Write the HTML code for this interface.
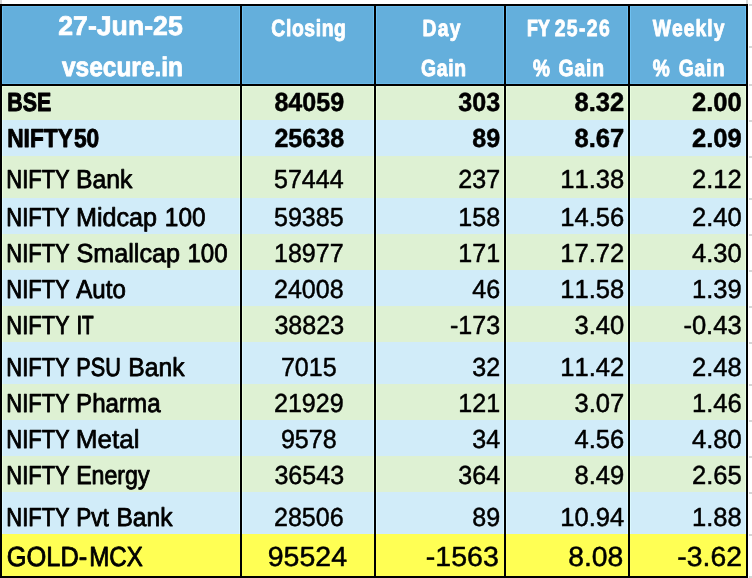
<!DOCTYPE html>
<html lang="en"><head><meta charset="utf-8"><title>Market summary 27-Jun-25</title>
<style>html,body{margin:0;padding:0;background:#fff;width:752px;height:578px;overflow:hidden}</style></head>
<body>
<svg width="752" height="578" viewBox="0 0 752 578" style="display:block;position:absolute;left:0;top:0">
<rect x="0" y="0" width="752" height="578" fill="#fff"/>
<g shape-rendering="crispEdges">
<rect x="0" y="0" width="2" height="4" fill="#D6D6D6"/>
<rect x="746" y="0" width="2" height="4" fill="#D6D6D6"/>
<rect x="749" y="4" width="3" height="2" fill="#D6D6D6"/>
<rect x="749" y="46" width="3" height="2" fill="#D6D6D6"/>
<rect x="749" y="84" width="3" height="2" fill="#D6D6D6"/>
<rect x="749" y="120" width="3" height="2" fill="#D6D6D6"/>
<rect x="749" y="156" width="3" height="2" fill="#D6D6D6"/>
<rect x="749" y="198" width="3" height="2" fill="#D6D6D6"/>
<rect x="749" y="234" width="3" height="2" fill="#D6D6D6"/>
<rect x="749" y="270" width="3" height="2" fill="#D6D6D6"/>
<rect x="749" y="306" width="3" height="2" fill="#D6D6D6"/>
<rect x="749" y="342" width="3" height="2" fill="#D6D6D6"/>
<rect x="749" y="384" width="3" height="2" fill="#D6D6D6"/>
<rect x="749" y="420" width="3" height="2" fill="#D6D6D6"/>
<rect x="749" y="456" width="3" height="2" fill="#D6D6D6"/>
<rect x="749" y="492" width="3" height="2" fill="#D6D6D6"/>
<rect x="749" y="534" width="3" height="2" fill="#D6D6D6"/>
<rect x="749" y="576" width="3" height="2" fill="#D6D6D6"/>
<rect x="0" y="4" width="748" height="574" fill="#000"/>
<rect x="2" y="6" width="238" height="78" fill="#64AFDC"/>
<rect x="2" y="86" width="238" height="34" fill="#DEF1D3"/>
<rect x="2" y="120" width="238" height="36" fill="#D1ECF9"/>
<rect x="2" y="156" width="238" height="42" fill="#DEF1D3"/>
<rect x="2" y="198" width="238" height="36" fill="#D1ECF9"/>
<rect x="2" y="234" width="238" height="36" fill="#DEF1D3"/>
<rect x="2" y="270" width="238" height="36" fill="#D1ECF9"/>
<rect x="2" y="306" width="238" height="36" fill="#DEF1D3"/>
<rect x="2" y="342" width="238" height="42" fill="#D1ECF9"/>
<rect x="2" y="384" width="238" height="36" fill="#DEF1D3"/>
<rect x="2" y="420" width="238" height="36" fill="#D1ECF9"/>
<rect x="2" y="456" width="238" height="36" fill="#DEF1D3"/>
<rect x="2" y="492" width="238" height="42" fill="#D1ECF9"/>
<rect x="2" y="534" width="238" height="42" fill="#FFFF54"/>
<rect x="242" y="6" width="132" height="78" fill="#64AFDC"/>
<rect x="242" y="86" width="132" height="34" fill="#DEF1D3"/>
<rect x="242" y="120" width="132" height="36" fill="#D1ECF9"/>
<rect x="242" y="156" width="132" height="42" fill="#DEF1D3"/>
<rect x="242" y="198" width="132" height="36" fill="#D1ECF9"/>
<rect x="242" y="234" width="132" height="36" fill="#DEF1D3"/>
<rect x="242" y="270" width="132" height="36" fill="#D1ECF9"/>
<rect x="242" y="306" width="132" height="36" fill="#DEF1D3"/>
<rect x="242" y="342" width="132" height="42" fill="#D1ECF9"/>
<rect x="242" y="384" width="132" height="36" fill="#DEF1D3"/>
<rect x="242" y="420" width="132" height="36" fill="#D1ECF9"/>
<rect x="242" y="456" width="132" height="36" fill="#DEF1D3"/>
<rect x="242" y="492" width="132" height="42" fill="#D1ECF9"/>
<rect x="242" y="534" width="132" height="42" fill="#FFFF54"/>
<rect x="376" y="6" width="128" height="78" fill="#64AFDC"/>
<rect x="376" y="86" width="128" height="34" fill="#DEF1D3"/>
<rect x="376" y="120" width="128" height="36" fill="#D1ECF9"/>
<rect x="376" y="156" width="128" height="42" fill="#DEF1D3"/>
<rect x="376" y="198" width="128" height="36" fill="#D1ECF9"/>
<rect x="376" y="234" width="128" height="36" fill="#DEF1D3"/>
<rect x="376" y="270" width="128" height="36" fill="#D1ECF9"/>
<rect x="376" y="306" width="128" height="36" fill="#DEF1D3"/>
<rect x="376" y="342" width="128" height="42" fill="#D1ECF9"/>
<rect x="376" y="384" width="128" height="36" fill="#DEF1D3"/>
<rect x="376" y="420" width="128" height="36" fill="#D1ECF9"/>
<rect x="376" y="456" width="128" height="36" fill="#DEF1D3"/>
<rect x="376" y="492" width="128" height="42" fill="#D1ECF9"/>
<rect x="376" y="534" width="128" height="42" fill="#FFFF54"/>
<rect x="506" y="6" width="122" height="78" fill="#64AFDC"/>
<rect x="506" y="86" width="122" height="34" fill="#DEF1D3"/>
<rect x="506" y="120" width="122" height="36" fill="#D1ECF9"/>
<rect x="506" y="156" width="122" height="42" fill="#DEF1D3"/>
<rect x="506" y="198" width="122" height="36" fill="#D1ECF9"/>
<rect x="506" y="234" width="122" height="36" fill="#DEF1D3"/>
<rect x="506" y="270" width="122" height="36" fill="#D1ECF9"/>
<rect x="506" y="306" width="122" height="36" fill="#DEF1D3"/>
<rect x="506" y="342" width="122" height="42" fill="#D1ECF9"/>
<rect x="506" y="384" width="122" height="36" fill="#DEF1D3"/>
<rect x="506" y="420" width="122" height="36" fill="#D1ECF9"/>
<rect x="506" y="456" width="122" height="36" fill="#DEF1D3"/>
<rect x="506" y="492" width="122" height="42" fill="#D1ECF9"/>
<rect x="506" y="534" width="122" height="42" fill="#FFFF54"/>
<rect x="630" y="6" width="116" height="78" fill="#64AFDC"/>
<rect x="630" y="86" width="116" height="34" fill="#DEF1D3"/>
<rect x="630" y="120" width="116" height="36" fill="#D1ECF9"/>
<rect x="630" y="156" width="116" height="42" fill="#DEF1D3"/>
<rect x="630" y="198" width="116" height="36" fill="#D1ECF9"/>
<rect x="630" y="234" width="116" height="36" fill="#DEF1D3"/>
<rect x="630" y="270" width="116" height="36" fill="#D1ECF9"/>
<rect x="630" y="306" width="116" height="36" fill="#DEF1D3"/>
<rect x="630" y="342" width="116" height="42" fill="#D1ECF9"/>
<rect x="630" y="384" width="116" height="36" fill="#DEF1D3"/>
<rect x="630" y="420" width="116" height="36" fill="#D1ECF9"/>
<rect x="630" y="456" width="116" height="36" fill="#DEF1D3"/>
<rect x="630" y="492" width="116" height="42" fill="#D1ECF9"/>
<rect x="630" y="534" width="116" height="42" fill="#FFFF54"/>
<rect x="2" y="6" width="1" height="78" fill="#6EC1F2"/>
<rect x="239" y="6" width="1" height="78" fill="#6EC1F2"/>
<rect x="2" y="86" width="1" height="34" fill="#E9FDDE"/>
<rect x="239" y="86" width="1" height="34" fill="#E9FDDE"/>
<rect x="2" y="120" width="1" height="36" fill="#DBF8FF"/>
<rect x="239" y="120" width="1" height="36" fill="#DBF8FF"/>
<rect x="2" y="156" width="1" height="42" fill="#E9FDDE"/>
<rect x="239" y="156" width="1" height="42" fill="#E9FDDE"/>
<rect x="2" y="198" width="1" height="36" fill="#DBF8FF"/>
<rect x="239" y="198" width="1" height="36" fill="#DBF8FF"/>
<rect x="2" y="234" width="1" height="36" fill="#E9FDDE"/>
<rect x="239" y="234" width="1" height="36" fill="#E9FDDE"/>
<rect x="2" y="270" width="1" height="36" fill="#DBF8FF"/>
<rect x="239" y="270" width="1" height="36" fill="#DBF8FF"/>
<rect x="2" y="306" width="1" height="36" fill="#E9FDDE"/>
<rect x="239" y="306" width="1" height="36" fill="#E9FDDE"/>
<rect x="2" y="342" width="1" height="42" fill="#DBF8FF"/>
<rect x="239" y="342" width="1" height="42" fill="#DBF8FF"/>
<rect x="2" y="384" width="1" height="36" fill="#E9FDDE"/>
<rect x="239" y="384" width="1" height="36" fill="#E9FDDE"/>
<rect x="2" y="420" width="1" height="36" fill="#DBF8FF"/>
<rect x="239" y="420" width="1" height="36" fill="#DBF8FF"/>
<rect x="2" y="456" width="1" height="36" fill="#E9FDDE"/>
<rect x="239" y="456" width="1" height="36" fill="#E9FDDE"/>
<rect x="2" y="492" width="1" height="42" fill="#DBF8FF"/>
<rect x="239" y="492" width="1" height="42" fill="#DBF8FF"/>
<rect x="2" y="534" width="1" height="42" fill="#FFFF58"/>
<rect x="239" y="534" width="1" height="42" fill="#FFFF58"/>
<rect x="2" y="6" width="238" height="1" fill="#6ABAE9"/>
<rect x="2" y="83" width="238" height="1" fill="#6ABAE9"/>
<rect x="2" y="86" width="238" height="1" fill="#E5F8D9"/>
<rect x="2" y="575" width="238" height="1" fill="#FFFF57"/>
<rect x="242" y="6" width="1" height="78" fill="#6EC1F2"/>
<rect x="373" y="6" width="1" height="78" fill="#6EC1F2"/>
<rect x="242" y="86" width="1" height="34" fill="#E9FDDE"/>
<rect x="373" y="86" width="1" height="34" fill="#E9FDDE"/>
<rect x="242" y="120" width="1" height="36" fill="#DBF8FF"/>
<rect x="373" y="120" width="1" height="36" fill="#DBF8FF"/>
<rect x="242" y="156" width="1" height="42" fill="#E9FDDE"/>
<rect x="373" y="156" width="1" height="42" fill="#E9FDDE"/>
<rect x="242" y="198" width="1" height="36" fill="#DBF8FF"/>
<rect x="373" y="198" width="1" height="36" fill="#DBF8FF"/>
<rect x="242" y="234" width="1" height="36" fill="#E9FDDE"/>
<rect x="373" y="234" width="1" height="36" fill="#E9FDDE"/>
<rect x="242" y="270" width="1" height="36" fill="#DBF8FF"/>
<rect x="373" y="270" width="1" height="36" fill="#DBF8FF"/>
<rect x="242" y="306" width="1" height="36" fill="#E9FDDE"/>
<rect x="373" y="306" width="1" height="36" fill="#E9FDDE"/>
<rect x="242" y="342" width="1" height="42" fill="#DBF8FF"/>
<rect x="373" y="342" width="1" height="42" fill="#DBF8FF"/>
<rect x="242" y="384" width="1" height="36" fill="#E9FDDE"/>
<rect x="373" y="384" width="1" height="36" fill="#E9FDDE"/>
<rect x="242" y="420" width="1" height="36" fill="#DBF8FF"/>
<rect x="373" y="420" width="1" height="36" fill="#DBF8FF"/>
<rect x="242" y="456" width="1" height="36" fill="#E9FDDE"/>
<rect x="373" y="456" width="1" height="36" fill="#E9FDDE"/>
<rect x="242" y="492" width="1" height="42" fill="#DBF8FF"/>
<rect x="373" y="492" width="1" height="42" fill="#DBF8FF"/>
<rect x="242" y="534" width="1" height="42" fill="#FFFF58"/>
<rect x="373" y="534" width="1" height="42" fill="#FFFF58"/>
<rect x="242" y="6" width="132" height="1" fill="#6ABAE9"/>
<rect x="242" y="83" width="132" height="1" fill="#6ABAE9"/>
<rect x="242" y="86" width="132" height="1" fill="#E5F8D9"/>
<rect x="242" y="575" width="132" height="1" fill="#FFFF57"/>
<rect x="376" y="6" width="1" height="78" fill="#6EC1F2"/>
<rect x="503" y="6" width="1" height="78" fill="#6EC1F2"/>
<rect x="376" y="86" width="1" height="34" fill="#E9FDDE"/>
<rect x="503" y="86" width="1" height="34" fill="#E9FDDE"/>
<rect x="376" y="120" width="1" height="36" fill="#DBF8FF"/>
<rect x="503" y="120" width="1" height="36" fill="#DBF8FF"/>
<rect x="376" y="156" width="1" height="42" fill="#E9FDDE"/>
<rect x="503" y="156" width="1" height="42" fill="#E9FDDE"/>
<rect x="376" y="198" width="1" height="36" fill="#DBF8FF"/>
<rect x="503" y="198" width="1" height="36" fill="#DBF8FF"/>
<rect x="376" y="234" width="1" height="36" fill="#E9FDDE"/>
<rect x="503" y="234" width="1" height="36" fill="#E9FDDE"/>
<rect x="376" y="270" width="1" height="36" fill="#DBF8FF"/>
<rect x="503" y="270" width="1" height="36" fill="#DBF8FF"/>
<rect x="376" y="306" width="1" height="36" fill="#E9FDDE"/>
<rect x="503" y="306" width="1" height="36" fill="#E9FDDE"/>
<rect x="376" y="342" width="1" height="42" fill="#DBF8FF"/>
<rect x="503" y="342" width="1" height="42" fill="#DBF8FF"/>
<rect x="376" y="384" width="1" height="36" fill="#E9FDDE"/>
<rect x="503" y="384" width="1" height="36" fill="#E9FDDE"/>
<rect x="376" y="420" width="1" height="36" fill="#DBF8FF"/>
<rect x="503" y="420" width="1" height="36" fill="#DBF8FF"/>
<rect x="376" y="456" width="1" height="36" fill="#E9FDDE"/>
<rect x="503" y="456" width="1" height="36" fill="#E9FDDE"/>
<rect x="376" y="492" width="1" height="42" fill="#DBF8FF"/>
<rect x="503" y="492" width="1" height="42" fill="#DBF8FF"/>
<rect x="376" y="534" width="1" height="42" fill="#FFFF58"/>
<rect x="503" y="534" width="1" height="42" fill="#FFFF58"/>
<rect x="376" y="6" width="128" height="1" fill="#6ABAE9"/>
<rect x="376" y="83" width="128" height="1" fill="#6ABAE9"/>
<rect x="376" y="86" width="128" height="1" fill="#E5F8D9"/>
<rect x="376" y="575" width="128" height="1" fill="#FFFF57"/>
<rect x="506" y="6" width="1" height="78" fill="#6EC1F2"/>
<rect x="627" y="6" width="1" height="78" fill="#6EC1F2"/>
<rect x="506" y="86" width="1" height="34" fill="#E9FDDE"/>
<rect x="627" y="86" width="1" height="34" fill="#E9FDDE"/>
<rect x="506" y="120" width="1" height="36" fill="#DBF8FF"/>
<rect x="627" y="120" width="1" height="36" fill="#DBF8FF"/>
<rect x="506" y="156" width="1" height="42" fill="#E9FDDE"/>
<rect x="627" y="156" width="1" height="42" fill="#E9FDDE"/>
<rect x="506" y="198" width="1" height="36" fill="#DBF8FF"/>
<rect x="627" y="198" width="1" height="36" fill="#DBF8FF"/>
<rect x="506" y="234" width="1" height="36" fill="#E9FDDE"/>
<rect x="627" y="234" width="1" height="36" fill="#E9FDDE"/>
<rect x="506" y="270" width="1" height="36" fill="#DBF8FF"/>
<rect x="627" y="270" width="1" height="36" fill="#DBF8FF"/>
<rect x="506" y="306" width="1" height="36" fill="#E9FDDE"/>
<rect x="627" y="306" width="1" height="36" fill="#E9FDDE"/>
<rect x="506" y="342" width="1" height="42" fill="#DBF8FF"/>
<rect x="627" y="342" width="1" height="42" fill="#DBF8FF"/>
<rect x="506" y="384" width="1" height="36" fill="#E9FDDE"/>
<rect x="627" y="384" width="1" height="36" fill="#E9FDDE"/>
<rect x="506" y="420" width="1" height="36" fill="#DBF8FF"/>
<rect x="627" y="420" width="1" height="36" fill="#DBF8FF"/>
<rect x="506" y="456" width="1" height="36" fill="#E9FDDE"/>
<rect x="627" y="456" width="1" height="36" fill="#E9FDDE"/>
<rect x="506" y="492" width="1" height="42" fill="#DBF8FF"/>
<rect x="627" y="492" width="1" height="42" fill="#DBF8FF"/>
<rect x="506" y="534" width="1" height="42" fill="#FFFF58"/>
<rect x="627" y="534" width="1" height="42" fill="#FFFF58"/>
<rect x="506" y="6" width="122" height="1" fill="#6ABAE9"/>
<rect x="506" y="83" width="122" height="1" fill="#6ABAE9"/>
<rect x="506" y="86" width="122" height="1" fill="#E5F8D9"/>
<rect x="506" y="575" width="122" height="1" fill="#FFFF57"/>
<rect x="630" y="6" width="1" height="78" fill="#6EC1F2"/>
<rect x="745" y="6" width="1" height="78" fill="#6EC1F2"/>
<rect x="630" y="86" width="1" height="34" fill="#E9FDDE"/>
<rect x="745" y="86" width="1" height="34" fill="#E9FDDE"/>
<rect x="630" y="120" width="1" height="36" fill="#DBF8FF"/>
<rect x="745" y="120" width="1" height="36" fill="#DBF8FF"/>
<rect x="630" y="156" width="1" height="42" fill="#E9FDDE"/>
<rect x="745" y="156" width="1" height="42" fill="#E9FDDE"/>
<rect x="630" y="198" width="1" height="36" fill="#DBF8FF"/>
<rect x="745" y="198" width="1" height="36" fill="#DBF8FF"/>
<rect x="630" y="234" width="1" height="36" fill="#E9FDDE"/>
<rect x="745" y="234" width="1" height="36" fill="#E9FDDE"/>
<rect x="630" y="270" width="1" height="36" fill="#DBF8FF"/>
<rect x="745" y="270" width="1" height="36" fill="#DBF8FF"/>
<rect x="630" y="306" width="1" height="36" fill="#E9FDDE"/>
<rect x="745" y="306" width="1" height="36" fill="#E9FDDE"/>
<rect x="630" y="342" width="1" height="42" fill="#DBF8FF"/>
<rect x="745" y="342" width="1" height="42" fill="#DBF8FF"/>
<rect x="630" y="384" width="1" height="36" fill="#E9FDDE"/>
<rect x="745" y="384" width="1" height="36" fill="#E9FDDE"/>
<rect x="630" y="420" width="1" height="36" fill="#DBF8FF"/>
<rect x="745" y="420" width="1" height="36" fill="#DBF8FF"/>
<rect x="630" y="456" width="1" height="36" fill="#E9FDDE"/>
<rect x="745" y="456" width="1" height="36" fill="#E9FDDE"/>
<rect x="630" y="492" width="1" height="42" fill="#DBF8FF"/>
<rect x="745" y="492" width="1" height="42" fill="#DBF8FF"/>
<rect x="630" y="534" width="1" height="42" fill="#FFFF58"/>
<rect x="745" y="534" width="1" height="42" fill="#FFFF58"/>
<rect x="630" y="6" width="116" height="1" fill="#6ABAE9"/>
<rect x="630" y="83" width="116" height="1" fill="#6ABAE9"/>
<rect x="630" y="86" width="116" height="1" fill="#E5F8D9"/>
<rect x="630" y="575" width="116" height="1" fill="#FFFF57"/>
</g>
<g font-family="'Liberation Sans', Arial, Helvetica, sans-serif" text-rendering="geometricPrecision" style="font-kerning:none" fill="#000" stroke="#000" stroke-width="0.5" stroke-linejoin="round">
<text y="35.40" font-size="27.0" font-weight="bold" fill="#fff" stroke="#fff" stroke-width="0.85"><tspan x="58.26" textLength="124.50" lengthAdjust="spacingAndGlyphs" stroke-width="0.72">27-Jun-25</tspan></text>
<text y="35.60" font-size="23.3" font-weight="bold" fill="#fff" stroke="#fff" stroke-width="0.85"><tspan x="271.34" textLength="75.14" lengthAdjust="spacingAndGlyphs" letter-spacing="0.730" stroke-width="0.89">Closing</tspan></text>
<text y="35.60" font-size="23.3" font-weight="bold" fill="#fff" stroke="#fff" stroke-width="0.85"><tspan x="422.50" textLength="39.31" lengthAdjust="spacingAndGlyphs" letter-spacing="1.543" stroke-width="0.86">Day</tspan></text>
<text y="35.60" font-size="23.3" font-weight="bold" fill="#fff" stroke="#fff" stroke-width="0.85"><tspan x="527.00" textLength="22.78" lengthAdjust="spacingAndGlyphs" stroke-width="1.14">FY</tspan> <tspan x="554.71" textLength="56.32" lengthAdjust="spacingAndGlyphs" letter-spacing="1.653" stroke-width="0.82">25-26</tspan></text>
<text y="35.60" font-size="23.3" font-weight="bold" fill="#fff" stroke="#fff" stroke-width="0.85"><tspan x="652.63" textLength="72.84" lengthAdjust="spacingAndGlyphs" letter-spacing="1.245" stroke-width="0.86">Weekly</tspan></text>
<text y="75.50" font-size="27.0" font-weight="bold" fill="#fff" stroke="#fff" stroke-width="0.85"><tspan x="62.02" textLength="121.01" lengthAdjust="spacingAndGlyphs" stroke-width="0.84">vsecure.in</tspan></text>
<text y="75.70" font-size="23.3" font-weight="bold" fill="#fff" stroke="#fff" stroke-width="0.85"><tspan x="421.05" textLength="45.85" lengthAdjust="spacingAndGlyphs" letter-spacing="0.865" stroke-width="0.89">Gain</tspan></text>
<text y="75.70" font-size="23.3" font-weight="bold" fill="#fff" stroke="#fff" stroke-width="0.85"><tspan x="532.89" textLength="16.98" lengthAdjust="spacingAndGlyphs" stroke-width="0.98">%</tspan> <tspan x="558.54" textLength="46.53" lengthAdjust="spacingAndGlyphs" letter-spacing="1.070" stroke-width="0.88">Gain</tspan></text>
<text y="75.70" font-size="23.3" font-weight="bold" fill="#fff" stroke="#fff" stroke-width="0.85"><tspan x="652.79" textLength="16.98" lengthAdjust="spacingAndGlyphs" stroke-width="0.98">%</tspan> <tspan x="678.63" textLength="46.81" lengthAdjust="spacingAndGlyphs" letter-spacing="1.154" stroke-width="0.87">Gain</tspan></text>
<text y="111.30" font-size="26.0" font-weight="bold" stroke-width="0.85"><tspan x="7.27" textLength="43.91" lengthAdjust="spacingAndGlyphs" stroke-width="0.99">BSE</tspan></text>
<text x="274.42" y="111.30" font-size="26.0" font-weight="bold" textLength="69.71" lengthAdjust="spacingAndGlyphs">84059</text>
<text x="458.27" y="111.30" font-size="26.0" font-weight="bold" textLength="41.82" lengthAdjust="spacingAndGlyphs">303</text>
<text x="574.41" y="111.30" font-size="26.0" font-weight="bold" textLength="49.79" lengthAdjust="spacingAndGlyphs">8.32</text>
<text x="691.91" y="111.30" font-size="26.0" font-weight="bold" textLength="49.79" lengthAdjust="spacingAndGlyphs">2.00</text>
<text y="147.30" font-size="26.0" font-weight="bold" stroke-width="0.85"><tspan x="7.17" textLength="65.68" lengthAdjust="spacingAndGlyphs" stroke-width="0.89">NIFTY</tspan><tspan x="73.94" textLength="25.32" lengthAdjust="spacingAndGlyphs" stroke-width="0.88">50</tspan></text>
<text x="274.42" y="147.30" font-size="26.0" font-weight="bold" textLength="69.71" lengthAdjust="spacingAndGlyphs">25638</text>
<text x="472.21" y="147.30" font-size="26.0" font-weight="bold" textLength="27.88" lengthAdjust="spacingAndGlyphs">89</text>
<text x="574.41" y="147.30" font-size="26.0" font-weight="bold" textLength="49.79" lengthAdjust="spacingAndGlyphs">8.67</text>
<text x="691.91" y="147.30" font-size="26.0" font-weight="bold" textLength="49.79" lengthAdjust="spacingAndGlyphs">2.09</text>
<text y="187.50" font-size="26.0" stroke-width="0.85"><tspan x="6.28" textLength="63.45" lengthAdjust="spacingAndGlyphs" stroke-width="0.93">NIFTY</tspan> <tspan x="75.98" textLength="56.38" lengthAdjust="spacingAndGlyphs" stroke-width="0.77">Bank</tspan></text>
<text x="273.94" y="187.50" font-size="26.0" textLength="69.71" lengthAdjust="spacingAndGlyphs">57444</text>
<text x="458.27" y="187.50" font-size="26.0" textLength="41.82" lengthAdjust="spacingAndGlyphs">237</text>
<text x="560.19" y="187.50" font-size="26.0" textLength="64.02" lengthAdjust="spacingAndGlyphs">11.38</text>
<text x="691.91" y="187.50" font-size="26.0" textLength="49.79" lengthAdjust="spacingAndGlyphs">2.12</text>
<text y="225.50" font-size="26.0" stroke-width="0.85"><tspan x="6.28" textLength="63.45" lengthAdjust="spacingAndGlyphs" stroke-width="0.93">NIFTY</tspan> <tspan x="75.94" textLength="81.13" lengthAdjust="spacingAndGlyphs" stroke-width="0.75">Midcap</tspan> <tspan x="164.85" textLength="40.78" lengthAdjust="spacingAndGlyphs" stroke-width="0.79">100</tspan></text>
<text x="273.94" y="225.50" font-size="26.0" textLength="69.71" lengthAdjust="spacingAndGlyphs">59385</text>
<text x="458.27" y="225.50" font-size="26.0" textLength="41.82" lengthAdjust="spacingAndGlyphs">158</text>
<text x="560.19" y="225.50" font-size="26.0" textLength="64.02" lengthAdjust="spacingAndGlyphs">14.56</text>
<text x="691.91" y="225.50" font-size="26.0" textLength="49.79" lengthAdjust="spacingAndGlyphs">2.40</text>
<text y="261.50" font-size="26.0" stroke-width="0.85"><tspan x="6.28" textLength="63.45" lengthAdjust="spacingAndGlyphs" stroke-width="0.93">NIFTY</tspan> <tspan x="76.40" textLength="103.77" lengthAdjust="spacingAndGlyphs" stroke-width="0.75">Smallcap</tspan> <tspan x="187.38" textLength="40.24" lengthAdjust="spacingAndGlyphs" stroke-width="0.81">100</tspan></text>
<text x="273.94" y="261.50" font-size="26.0" textLength="69.71" lengthAdjust="spacingAndGlyphs">18977</text>
<text x="458.27" y="261.50" font-size="26.0" textLength="41.82" lengthAdjust="spacingAndGlyphs">171</text>
<text x="560.19" y="261.50" font-size="26.0" textLength="64.02" lengthAdjust="spacingAndGlyphs">17.72</text>
<text x="691.91" y="261.50" font-size="26.0" textLength="49.79" lengthAdjust="spacingAndGlyphs">4.30</text>
<text y="297.50" font-size="26.0" stroke-width="0.85"><tspan x="6.28" textLength="63.45" lengthAdjust="spacingAndGlyphs" stroke-width="0.93">NIFTY</tspan> <tspan x="76.31" textLength="49.52" lengthAdjust="spacingAndGlyphs" stroke-width="0.81">Auto</tspan></text>
<text x="273.94" y="297.50" font-size="26.0" textLength="69.71" lengthAdjust="spacingAndGlyphs">24008</text>
<text x="472.21" y="297.50" font-size="26.0" textLength="27.88" lengthAdjust="spacingAndGlyphs">46</text>
<text x="560.19" y="297.50" font-size="26.0" textLength="64.02" lengthAdjust="spacingAndGlyphs">11.58</text>
<text x="691.91" y="297.50" font-size="26.0" textLength="49.79" lengthAdjust="spacingAndGlyphs">1.39</text>
<text y="333.50" font-size="26.0" stroke-width="0.85"><tspan x="6.28" textLength="63.45" lengthAdjust="spacingAndGlyphs" stroke-width="0.93">NIFTY</tspan> <tspan x="76.75" textLength="16.85" lengthAdjust="spacingAndGlyphs" stroke-width="1.22">IT</tspan></text>
<text x="274.42" y="333.50" font-size="26.0" textLength="69.71" lengthAdjust="spacingAndGlyphs">38823</text>
<text x="449.92" y="333.50" font-size="26.0" textLength="50.17" lengthAdjust="spacingAndGlyphs">-173</text>
<text x="574.41" y="333.50" font-size="26.0" textLength="49.79" lengthAdjust="spacingAndGlyphs">3.40</text>
<text x="683.39" y="333.50" font-size="26.0" textLength="58.31" lengthAdjust="spacingAndGlyphs">-0.43</text>
<text y="375.60" font-size="26.0" stroke-width="0.85"><tspan x="6.28" textLength="63.45" lengthAdjust="spacingAndGlyphs" stroke-width="0.93">NIFTY</tspan> <tspan x="76.31" textLength="44.49" lengthAdjust="spacingAndGlyphs" stroke-width="0.96">PSU</tspan> <tspan x="128.29" textLength="56.17" lengthAdjust="spacingAndGlyphs" stroke-width="0.78">Bank</tspan></text>
<text x="280.91" y="375.60" font-size="26.0" textLength="55.77" lengthAdjust="spacingAndGlyphs">7015</text>
<text x="472.21" y="375.60" font-size="26.0" textLength="27.88" lengthAdjust="spacingAndGlyphs">32</text>
<text x="560.19" y="375.60" font-size="26.0" textLength="64.02" lengthAdjust="spacingAndGlyphs">11.42</text>
<text x="691.91" y="375.60" font-size="26.0" textLength="49.79" lengthAdjust="spacingAndGlyphs">2.48</text>
<text y="411.50" font-size="26.0" stroke-width="0.85"><tspan x="6.28" textLength="63.45" lengthAdjust="spacingAndGlyphs" stroke-width="0.93">NIFTY</tspan> <tspan x="76.05" textLength="84.55" lengthAdjust="spacingAndGlyphs" stroke-width="0.81">Pharma</tspan></text>
<text x="273.94" y="411.50" font-size="26.0" textLength="69.71" lengthAdjust="spacingAndGlyphs">21929</text>
<text x="458.27" y="411.50" font-size="26.0" textLength="41.82" lengthAdjust="spacingAndGlyphs">121</text>
<text x="574.41" y="411.50" font-size="26.0" textLength="49.79" lengthAdjust="spacingAndGlyphs">3.07</text>
<text x="691.91" y="411.50" font-size="26.0" textLength="49.79" lengthAdjust="spacingAndGlyphs">1.46</text>
<text y="447.50" font-size="26.0" stroke-width="0.85"><tspan x="6.28" textLength="63.45" lengthAdjust="spacingAndGlyphs" stroke-width="0.93">NIFTY</tspan> <tspan x="75.84" textLength="63.79" lengthAdjust="spacingAndGlyphs" stroke-width="0.70">Metal</tspan></text>
<text x="280.91" y="447.50" font-size="26.0" textLength="55.77" lengthAdjust="spacingAndGlyphs">9578</text>
<text x="472.21" y="447.50" font-size="26.0" textLength="27.88" lengthAdjust="spacingAndGlyphs">34</text>
<text x="574.41" y="447.50" font-size="26.0" textLength="49.79" lengthAdjust="spacingAndGlyphs">4.56</text>
<text x="691.91" y="447.50" font-size="26.0" textLength="49.79" lengthAdjust="spacingAndGlyphs">4.80</text>
<text y="483.50" font-size="26.0" stroke-width="0.85"><tspan x="6.28" textLength="63.45" lengthAdjust="spacingAndGlyphs" stroke-width="0.93">NIFTY</tspan> <tspan x="76.15" textLength="73.42" lengthAdjust="spacingAndGlyphs" stroke-width="0.86">Energy</tspan></text>
<text x="274.42" y="483.50" font-size="26.0" textLength="69.71" lengthAdjust="spacingAndGlyphs">36543</text>
<text x="458.27" y="483.50" font-size="26.0" textLength="41.82" lengthAdjust="spacingAndGlyphs">364</text>
<text x="574.41" y="483.50" font-size="26.0" textLength="49.79" lengthAdjust="spacingAndGlyphs">8.49</text>
<text x="691.91" y="483.50" font-size="26.0" textLength="49.79" lengthAdjust="spacingAndGlyphs">2.65</text>
<text y="525.60" font-size="26.0" stroke-width="0.85"><tspan x="6.28" textLength="63.45" lengthAdjust="spacingAndGlyphs" stroke-width="0.93">NIFTY</tspan> <tspan x="76.21" textLength="32.67" lengthAdjust="spacingAndGlyphs" stroke-width="0.89">Pvt</tspan> <tspan x="116.51" textLength="55.95" lengthAdjust="spacingAndGlyphs" stroke-width="0.79">Bank</tspan></text>
<text x="273.94" y="525.60" font-size="26.0" textLength="69.71" lengthAdjust="spacingAndGlyphs">28506</text>
<text x="472.21" y="525.60" font-size="26.0" textLength="27.88" lengthAdjust="spacingAndGlyphs">89</text>
<text x="560.19" y="525.60" font-size="26.0" textLength="64.02" lengthAdjust="spacingAndGlyphs">10.94</text>
<text x="691.91" y="525.60" font-size="26.0" textLength="49.79" lengthAdjust="spacingAndGlyphs">1.88</text>
<text y="566.10" font-size="27.7" stroke-width="0.85"><tspan x="6.79" textLength="80.52" lengthAdjust="spacingAndGlyphs" stroke-width="0.82">GOLD-</tspan><tspan x="89.20" textLength="53.56" lengthAdjust="spacingAndGlyphs" stroke-width="0.89">MCX</tspan></text>
<text x="267.72" y="566.10" font-size="27.7" textLength="79.34" lengthAdjust="spacingAndGlyphs">95524</text>
<text x="425.89" y="566.10" font-size="27.7" textLength="72.97" lengthAdjust="spacingAndGlyphs">-1563</text>
<text x="568.27" y="566.10" font-size="27.7" textLength="55.09" lengthAdjust="spacingAndGlyphs">8.08</text>
<text x="677.37" y="566.10" font-size="27.7" textLength="64.51" lengthAdjust="spacingAndGlyphs">-3.62</text>
</g></svg>
</body></html>
